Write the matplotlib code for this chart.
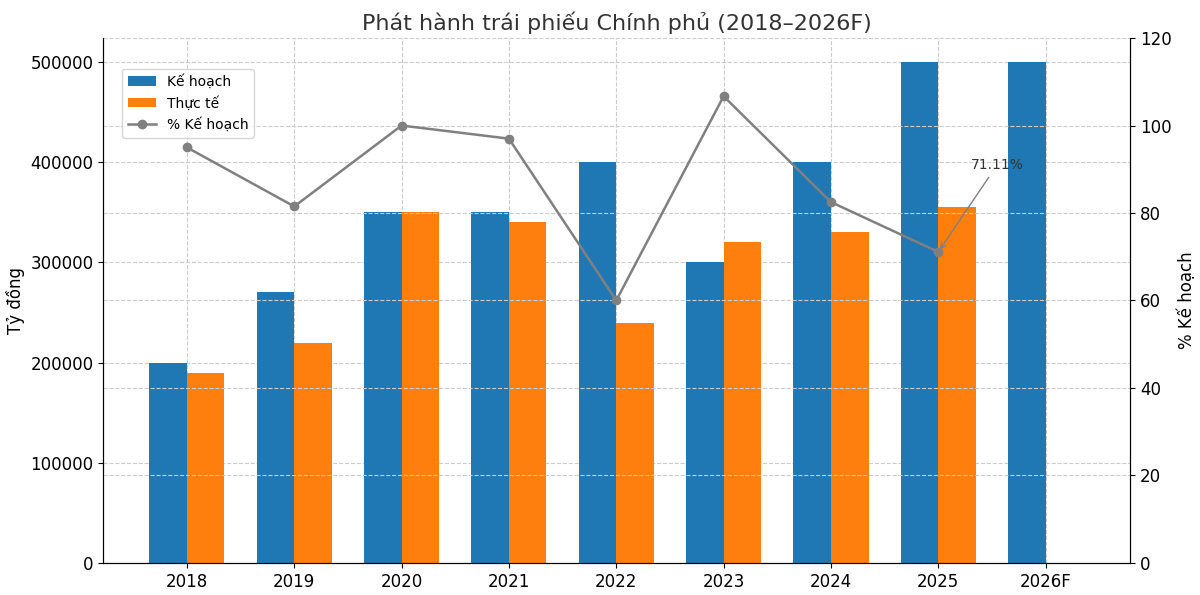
import matplotlib.pyplot as plt
import numpy as np

years = ["2018", "2019", "2020", "2021", "2022", "2023", "2024", "2025", "2026F"]
ke_hoach = [200000, 270000, 350000, 350000, 400000, 300000, 400000, 500000, 500000]
thuc_te = [190000, 220000, 350000, 340000, 240000, 320000, 330000, 355550, np.nan]
pct = [95.0, 81.5, 100.0, 97.0, 60.0, 106.7, 82.5, 71.11, np.nan]

fig = plt.figure(figsize=(12, 5.95), dpi=100)
ax = fig.add_axes([0.086, 0.054, 0.856, 0.882])
x = np.arange(len(years))
w = 0.35
b1 = ax.bar(x - w/2, ke_hoach, w, color="#1f77b4", label="Kế hoạch", zorder=2)
b2 = ax.bar(x + w/2, thuc_te, w, color="#ff7f0e", label="Thực tế", zorder=2)
ax.set_xticks(x)
ax.set_xticklabels(years, fontsize=12)
ax.set_xlim(-0.78, 8.79)
ax.set_ylim(0, 524000)
ax.set_ylabel("Tỷ đồng", fontsize=12)
ax.tick_params(axis="y", labelsize=12)
ax.grid(True, linestyle="--", color="#cccccc", linewidth=0.8, zorder=0)
ax.set_axisbelow(True)
ax.set_title("Phát hành trái phiếu Chính phủ (2018–2026F)", fontsize=16, color="#333333")
ax.spines["top"].set_visible(False)

ax2 = ax.twinx()
l, = ax2.plot(x, pct, color="gray", marker="o", markersize=6, linewidth=1.8, label="% Kế hoạch", zorder=3)
ax2.set_ylim(0, 120)
ax2.set_ylabel("% Kế hoạch", fontsize=12)
ax2.tick_params(axis="y", labelsize=12)
ax2.grid(True, linestyle="--", color="#cccccc", linewidth=0.8)
ax2.spines["top"].set_visible(False)
ax2.annotate(f"{pct[7]:.2f}%", xy=(x[7], pct[7]), xytext=(x[7] + 0.3, 90),
             arrowprops=dict(arrowstyle="->", color="gray"), fontsize=10, color="#333333")
ax2.legend([b1, b2, l], ["Kế hoạch", "Thực tế", "% Kế hoạch"], loc="upper left",
           bbox_to_anchor=(0.012, 0.955), fontsize=10)
fig.savefig("out.png", dpi=100)
